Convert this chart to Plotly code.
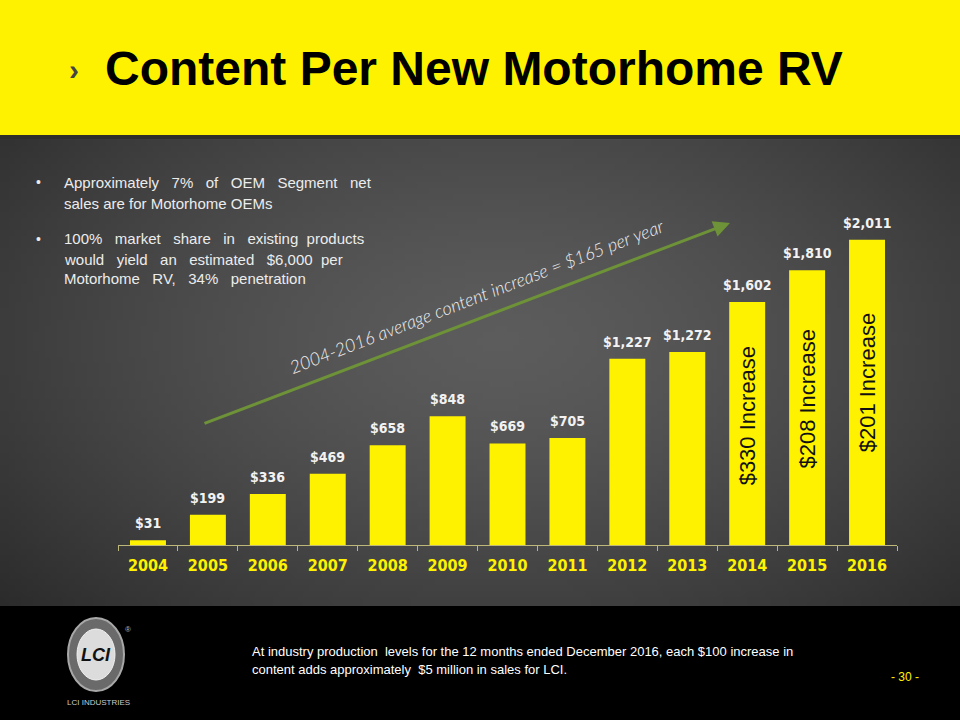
import plotly.graph_objects as go
import zlib, struct, base64, math

# ---------------- data ----------------
years = ['2004', '2005', '2006', '2007', '2008', '2009', '2010',
         '2011', '2012', '2013', '2014', '2015', '2016']
content = [31, 199, 336, 469, 658, 848, 669, 705, 1227, 1272, 1602, 1810, 2011]
increase_years = ['2014', '2015', '2016']
increase_labels = ['$330 Increase', '$208 Increase', '$201 Increase']

title_text = 'Content Per New Motorhome RV'
N = '\u00a0'
bullet_lines = [
    ['Approximately' + N*2 + ' 7%' + N*2 + ' of' + N*2 + ' OEM' + N*2 + ' Segment' + N*2 + ' net',
     'sales are for Motorhome OEMs'],
    ['100%' + N*2 + ' market' + N*2 + ' share' + N*2 + ' in' + N*2 + ' existing' + N + ' products',
     'would' + N*2 + ' yield' + N*2 + ' an' + N*2 + ' estimated' + N*2 + ' $6,000' + N + ' per',
     'Motorhome' + N*2 + ' RV,' + N*2 + ' 34%' + N*2 + ' penetration'],
]
arrow_text = '2004-2016 average content increase = $165 per year'
footer_lines = ['At industry production  levels for the 12 months ended December 2016, each $100 increase in',
                'content adds approximately  $5 million in sales for LCI.']
page_text = '- 30 -'

W, H = 960, 720
YELLOW = '#FFF200'


def px(x):
    return x / W


def py(y):
    return 1 - y / H


# ---------- background gradient image (pure python png) ----------
def png_uri(w, h, fn):
    raw = bytearray()
    for j in range(h):
        raw.append(0)
        for i in range(w):
            raw += bytes(fn(i, j))

    def chunk(t, d):
        c = struct.pack('>I', len(d)) + t + d
        return c + struct.pack('>I', zlib.crc32(t + d) & 0xffffffff)

    png = (b'\x89PNG\r\n\x1a\n'
           + chunk(b'IHDR', struct.pack('>IIBBBBB', w, h, 8, 2, 0, 0, 0))
           + chunk(b'IDAT', zlib.compress(bytes(raw), 9))
           + chunk(b'IEND', b''))
    return 'data:image/png;base64,' + base64.b64encode(png).decode()


GW, GH = 160, 78
top_px, bot_px = 137, 606


def grad(i, j):
    x = (i + 0.5) / GW * W
    y = top_px + (j + 0.5) / GH * (bot_px - top_px)
    d = math.sqrt(((x - 500) / 560) ** 2 + ((y - 340) / 330) ** 2)
    d = min(d, 1.3)
    v = int(round(92 - 38 * d ** 1.4))
    return (v, v, v)


bg_uri = png_uri(GW, GH, grad)

idx = list(range(len(years)))

fig = go.Figure()

fig.add_trace(go.Bar(
    x=years, y=content,
    marker=dict(color=YELLOW, line=dict(width=0)),
    hoverinfo='skip', showlegend=False,
))

annotations = []
# value labels
for i, v in zip(idx, content):
    annotations.append(dict(
        x=i, y=v, xref='x', yref='y', text='<b>${:,}</b>'.format(v), showarrow=False,
        yshift=17, font=dict(family='DejaVu Sans Condensed, Roboto', size=14, color='#f2f2f2'),
        xanchor='center', yanchor='middle'))
# increase labels inside bars
for yr, lab in zip(increase_years, increase_labels):
    i = years.index(yr)
    v = content[i]
    annotations.append(dict(
        x=i, y=v * 0.53, xref='x', yref='y', text=lab, showarrow=False, textangle=-90,
        font=dict(family='Liberation Sans, Arial', size=22, color='#111111'),
        xanchor='center', yanchor='middle'))

# title
annotations.append(dict(x=px(67), y=py(70), xref='paper', yref='paper', text='<b>›</b>',
                        showarrow=False, xanchor='left', yanchor='middle',
                        font=dict(family='Liberation Sans', size=30, color='#444444')))
annotations.append(dict(x=px(103), y=py(68), xref='paper', yref='paper', text='<b>' + title_text + '</b>',
                        showarrow=False, xanchor='left', yanchor='middle',
                        font=dict(family='Liberation Sans, Arial', size=48, color='#000000')))

# bullets
line_ys = [[182, 203], [239, 259, 279]]
for lines, ys in zip(bullet_lines, line_ys):
    annotations.append(dict(x=px(34), y=py(ys[0]), xref='paper', yref='paper', text='•',
                            showarrow=False, xanchor='left', yanchor='middle',
                            font=dict(family='Liberation Sans', size=14, color='#ececec')))
    for t, yy in zip(lines, ys):
        annotations.append(dict(x=px(62), y=py(yy), xref='paper', yref='paper', text=t,
                                showarrow=False, xanchor='left', yanchor='middle',
                                font=dict(family='Liberation Sans, Arial', size=15, color='#ececec')))

# trend arrow
annotations.append(dict(x=px(730), y=py(223), xref='paper', yref='paper', text='',
                        showarrow=True, ax=203 - 730, ay=424 - 223, axref='pixel', ayref='pixel',
                        arrowhead=2, arrowsize=1.1, arrowwidth=3, arrowcolor='#6E9238'))
annotations.append(dict(x=px(477), y=py(296), xref='paper', yref='paper', text='<i>' + arrow_text + '</i>',
                        showarrow=False, textangle=-21, xanchor='center', yanchor='middle',
                        font=dict(family='Lato', size=18, weight=300, color='#efefef')))

# footer
for t, yy in zip(footer_lines, [651, 669]):
    annotations.append(dict(x=px(250), y=py(yy), xref='paper', yref='paper', text=t,
                            showarrow=False, xanchor='left', yanchor='middle',
                            font=dict(family='Liberation Sans', size=13, color='#ffffff')))
annotations.append(dict(x=px(905), y=py(677), xref='paper', yref='paper', text=page_text,
                        showarrow=False, xanchor='center', yanchor='middle',
                        font=dict(family='Liberation Sans', size=12, color='#FFF200')))

# logo
annotations.append(dict(x=px(96), y=py(655), xref='paper', yref='paper', text='<b><i>LCI</i></b>',
                        showarrow=False, xanchor='center', yanchor='middle',
                        font=dict(family='Liberation Sans', size=18, color='#111111')))
annotations.append(dict(x=px(128), y=py(629), xref='paper', yref='paper', text='®',
                        showarrow=False, xanchor='center', yanchor='middle',
                        font=dict(family='Liberation Sans', size=8, color='#bbbbbb')))
annotations.append(dict(x=px(98), y=py(702), xref='paper', yref='paper', text='LCI INDUSTRIES',
                        showarrow=False, xanchor='center', yanchor='middle',
                        font=dict(family='Liberation Sans', size=8, color='#cccccc')))

shapes = [
    dict(type='rect', xref='paper', yref='paper', x0=0, x1=1, y0=py(136), y1=1,
         fillcolor=YELLOW, line=dict(width=0), layer='below'),
    dict(type='rect', xref='paper', yref='paper', x0=0, x1=1, y0=py(139), y1=py(135),
         fillcolor='#2e2e2a', line=dict(width=0), layer='below'),
    # logo
    dict(type='circle', xref='paper', yref='paper', x0=px(68), x1=px(124), y0=py(691), y1=py(618),
         fillcolor='#6a6a6a', line=dict(color='#a8a8a8', width=2), layer='above'),
    dict(type='circle', xref='paper', yref='paper', x0=px(77), x1=px(115), y0=py(680), y1=py(629),
         fillcolor='#dcdcdc', line=dict(color='#f2f2f2', width=1), layer='above'),
]

fig.update_layout(
    width=W, height=H,
    margin=dict(l=0, r=0, t=0, b=0),
    paper_bgcolor='#000000',
    plot_bgcolor='rgba(0,0,0,0)',
    bargap=0.4,
    showlegend=False,
    images=[dict(source=bg_uri, xref='paper', yref='paper', x=0, y=py(top_px),
                 sizex=1, sizey=(bot_px - top_px) / H, sizing='stretch',
                 xanchor='left', yanchor='top', layer='below')],
    shapes=shapes,
    annotations=annotations,
    xaxis=dict(domain=[px(118), px(897)], type='category', range=[-0.5, len(years) - 0.5],
               showgrid=False, zeroline=False,
               showline=True, linecolor='#bdb77a', linewidth=1,
               ticks='outside', tickson='boundaries', ticklen=5, tickcolor='#bdb77a',
               ticklabelstandoff=6,
               tickfont=dict(family='DejaVu Sans Condensed, Roboto', size=16, color=YELLOW, weight='bold'),
               fixedrange=True),
    yaxis=dict(domain=[py(545), py(196)], range=[0, 2300], visible=False, fixedrange=True),
)

fig.write_html('out.html', config={'displayModeBar': False},
               post_script="document.body.style.margin='0';document.body.style.overflow='hidden';")
